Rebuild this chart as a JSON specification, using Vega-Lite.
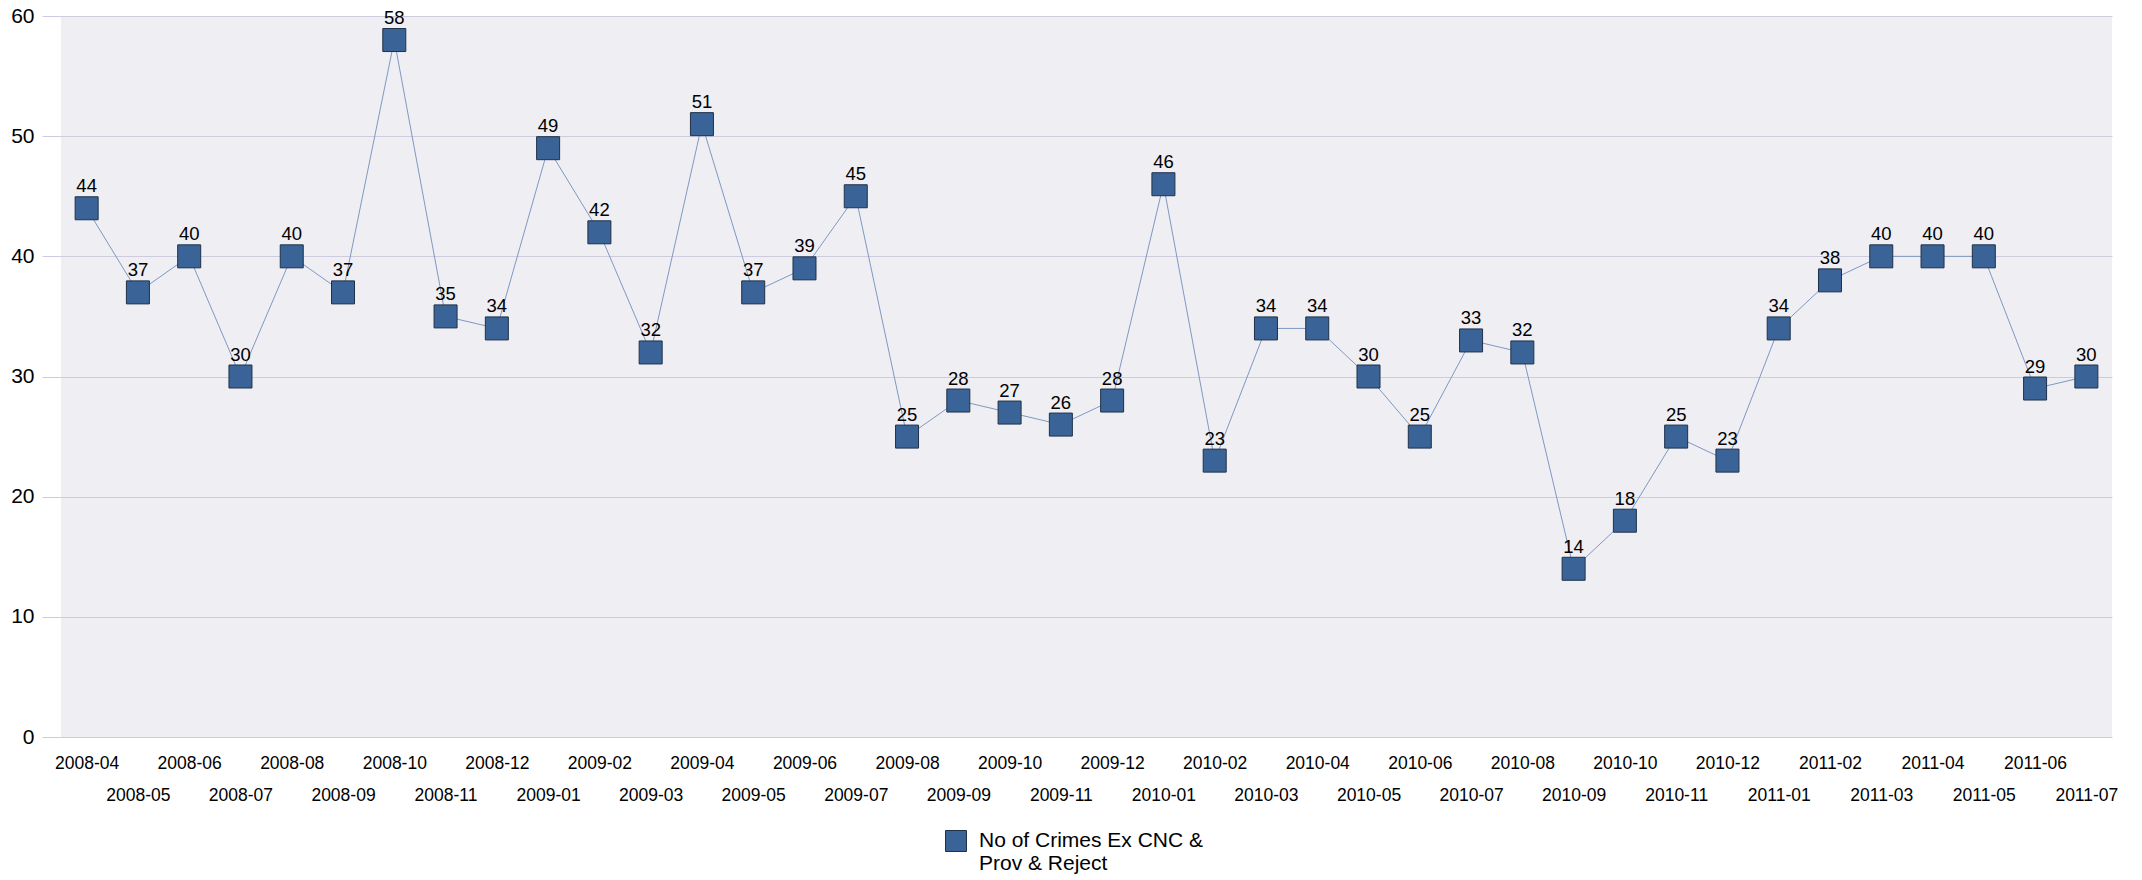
{
  "$schema": "https://vega.github.io/schema/vega-lite/v6.json",
  "width": 2051,
  "height": 721,
  "autosize": {"type": "none"},
  "padding": {"left": 61, "top": 16, "right": 30, "bottom": 143},
  "background": "white",
  "config": {
    "font": "Liberation Sans",
    "view": {"fill": "#EFEEF3", "stroke": null},
    "axis": {"labelFont": "Liberation Sans", "labelColor": "#000000", "titleFont": "Liberation Sans"}
  },
  "data": {
    "values": [
      {"month": "2008-04", "value": 44, "series": "No of Crimes Ex CNC & Prov & Reject"},
      {"month": "2008-05", "value": 37, "series": "No of Crimes Ex CNC & Prov & Reject"},
      {"month": "2008-06", "value": 40, "series": "No of Crimes Ex CNC & Prov & Reject"},
      {"month": "2008-07", "value": 30, "series": "No of Crimes Ex CNC & Prov & Reject"},
      {"month": "2008-08", "value": 40, "series": "No of Crimes Ex CNC & Prov & Reject"},
      {"month": "2008-09", "value": 37, "series": "No of Crimes Ex CNC & Prov & Reject"},
      {"month": "2008-10", "value": 58, "series": "No of Crimes Ex CNC & Prov & Reject"},
      {"month": "2008-11", "value": 35, "series": "No of Crimes Ex CNC & Prov & Reject"},
      {"month": "2008-12", "value": 34, "series": "No of Crimes Ex CNC & Prov & Reject"},
      {"month": "2009-01", "value": 49, "series": "No of Crimes Ex CNC & Prov & Reject"},
      {"month": "2009-02", "value": 42, "series": "No of Crimes Ex CNC & Prov & Reject"},
      {"month": "2009-03", "value": 32, "series": "No of Crimes Ex CNC & Prov & Reject"},
      {"month": "2009-04", "value": 51, "series": "No of Crimes Ex CNC & Prov & Reject"},
      {"month": "2009-05", "value": 37, "series": "No of Crimes Ex CNC & Prov & Reject"},
      {"month": "2009-06", "value": 39, "series": "No of Crimes Ex CNC & Prov & Reject"},
      {"month": "2009-07", "value": 45, "series": "No of Crimes Ex CNC & Prov & Reject"},
      {"month": "2009-08", "value": 25, "series": "No of Crimes Ex CNC & Prov & Reject"},
      {"month": "2009-09", "value": 28, "series": "No of Crimes Ex CNC & Prov & Reject"},
      {"month": "2009-10", "value": 27, "series": "No of Crimes Ex CNC & Prov & Reject"},
      {"month": "2009-11", "value": 26, "series": "No of Crimes Ex CNC & Prov & Reject"},
      {"month": "2009-12", "value": 28, "series": "No of Crimes Ex CNC & Prov & Reject"},
      {"month": "2010-01", "value": 46, "series": "No of Crimes Ex CNC & Prov & Reject"},
      {"month": "2010-02", "value": 23, "series": "No of Crimes Ex CNC & Prov & Reject"},
      {"month": "2010-03", "value": 34, "series": "No of Crimes Ex CNC & Prov & Reject"},
      {"month": "2010-04", "value": 34, "series": "No of Crimes Ex CNC & Prov & Reject"},
      {"month": "2010-05", "value": 30, "series": "No of Crimes Ex CNC & Prov & Reject"},
      {"month": "2010-06", "value": 25, "series": "No of Crimes Ex CNC & Prov & Reject"},
      {"month": "2010-07", "value": 33, "series": "No of Crimes Ex CNC & Prov & Reject"},
      {"month": "2010-08", "value": 32, "series": "No of Crimes Ex CNC & Prov & Reject"},
      {"month": "2010-09", "value": 14, "series": "No of Crimes Ex CNC & Prov & Reject"},
      {"month": "2010-10", "value": 18, "series": "No of Crimes Ex CNC & Prov & Reject"},
      {"month": "2010-11", "value": 25, "series": "No of Crimes Ex CNC & Prov & Reject"},
      {"month": "2010-12", "value": 23, "series": "No of Crimes Ex CNC & Prov & Reject"},
      {"month": "2011-01", "value": 34, "series": "No of Crimes Ex CNC & Prov & Reject"},
      {"month": "2011-02", "value": 38, "series": "No of Crimes Ex CNC & Prov & Reject"},
      {"month": "2011-03", "value": 40, "series": "No of Crimes Ex CNC & Prov & Reject"},
      {"month": "2011-04", "value": 40, "series": "No of Crimes Ex CNC & Prov & Reject"},
      {"month": "2011-05", "value": 40, "series": "No of Crimes Ex CNC & Prov & Reject"},
      {"month": "2011-06", "value": 29, "series": "No of Crimes Ex CNC & Prov & Reject"},
      {"month": "2011-07", "value": 30, "series": "No of Crimes Ex CNC & Prov & Reject"}
    ]
  },
  "encoding": {
    "x": {
      "field": "month",
      "type": "nominal",
      "sort": null,
      "scale": {"type": "point", "padding": 0.5},
      "axis": {
        "title": null,
        "domain": false,
        "ticks": false,
        "grid": false,
        "labelAngle": 0,
        "labelFontSize": 17.5,
        "labelPadding": 17,
        "labelLineHeight": 32,
        "labelBaseline": "top",
        "labelOverlap": false,
        "labelExpr": "toNumber(slice(datum.value, 5)) % 2 == 0 ? datum.value : ['', datum.value]"
      }
    },
    "y": {
      "field": "value",
      "type": "quantitative",
      "scale": {"domain": [0, 60], "nice": false},
      "axis": {
        "title": null,
        "values": [0, 10, 20, 30, 40, 50, 60],
        "domain": false,
        "ticks": true,
        "tickSize": 19,
        "tickColor": "#CDCBDD",
        "grid": true,
        "gridColor": "#CDCBDD",
        "gridOpacity": 1,
        "labelFontSize": 21,
        "labelPadding": 8
      }
    }
  },
  "layer": [
    {
      "mark": {"type": "line", "color": "#7F98C2", "strokeWidth": 1}
    },
    {
      "mark": {"type": "square", "size": 529, "opacity": 1, "filled": true, "stroke": "#1F3148", "strokeWidth": 1},
      "encoding": {
        "color": {
          "field": "series",
          "type": "nominal",
          "scale": {"range": ["#3A6497"]},
          "legend": {
            "title": null,
            "orient": "none",
            "legendX": 884,
            "legendY": 814,
            "symbolType": "square",
            "symbolSize": 441,
            "symbolStrokeColor": "#1F3148",
            "symbolStrokeWidth": 1,
            "labelFontSize": 21,
            "labelLineHeight": 24,
            "labelFont": "Liberation Sans",
            "labelColor": "#000000",
            "labelLimit": 400,
            "labelOffset": 12,
            "labelExpr": "['No of Crimes Ex CNC &', 'Prov & Reject']"
          }
        }
      }
    },
    {
      "mark": {"type": "text", "fontSize": 18.5, "font": "Liberation Sans", "color": "#000000", "baseline": "middle", "dy": -22},
      "encoding": {"text": {"field": "value", "type": "quantitative"}}
    }
  ]
}
